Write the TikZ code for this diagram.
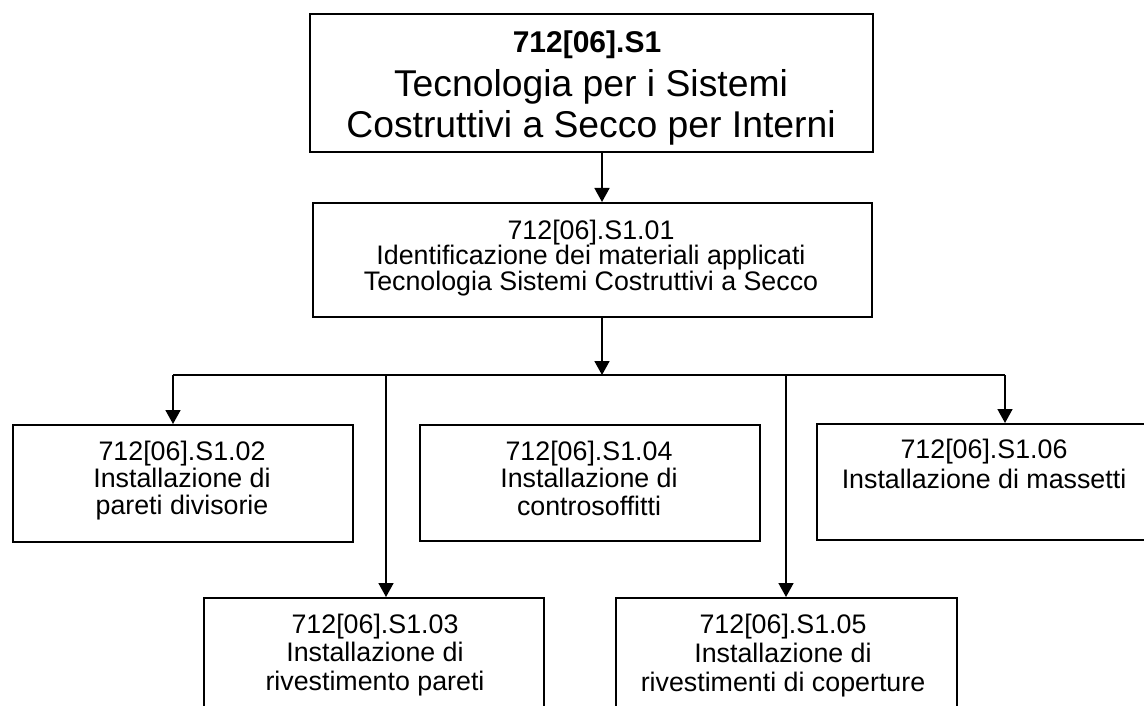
\documentclass[tikz,border=0pt]{standalone}
\usepackage{fontspec}
\setmainfont{Liberation Sans}
\usetikzlibrary{arrows.meta}
\lineskiplimit=-60pt
\begin{document}
\begin{tikzpicture}[x=1pt,y=-1pt,
  box/.style={draw=black,line width=1.7pt,rectangle,inner sep=0pt,anchor=north west},
  conn/.style={draw=black,line width=1.7pt},
  arr/.style={conn,-{Triangle[width=15pt,length=14pt]}},
  bigtxt/.style={anchor=base,align=center,inner sep=0pt,font=\fontsize{37.3}{41}\selectfont},
  boldtxt/.style={anchor=base,align=center,inner sep=0pt,font=\fontsize{30}{33}\selectfont\bfseries},
  smalltxt/.style={anchor=base,align=center,inner sep=0pt,font=\fontsize{26.8}{27}\selectfont}]
\useasboundingbox (0,0) rectangle (1144,706);
\clip (0,0) rectangle (1144,706);
% boxes
\node[box,minimum width=563pt,minimum height=138pt] (top) at (309,13) {};
\node[box,minimum width=559pt,minimum height=114pt] (b01) at (312,202) {};
\node[box,minimum width=340pt,minimum height=117pt] (b02) at (12,424) {};
\node[box,minimum width=340pt,minimum height=116pt] (b04) at (419,424) {};
\node[box,minimum width=340pt,minimum height=116pt] (b06) at (816,423) {};
\node[box,minimum width=340pt,minimum height=140pt] (b03) at (203,597) {};
\node[box,minimum width=341pt,minimum height=140pt] (b05) at (615,597) {};
% texts (anchor base = baseline of the last line)
\node[boldtxt] (t0a) at (587,53) {712[06].S1};
\node[bigtxt] (t0b) at (591,138) {Tecnologia per i Sistemi\\Costruttivi a Secco per Interni};
\node[smalltxt,font=\fontsize{26.8}{25.5}\selectfont] (t01) at (591,290) {712[06].S1.01\\Identificazione dei materiali applicati\\Tecnologia Sistemi Costruttivi a Secco};
\node[smalltxt] (t02) at (182,514) {712[06].S1.02\\Installazione di\\pareti divisorie};
\node[smalltxt,font=\fontsize{26.8}{27.5}\selectfont] (t04) at (589,515) {712[06].S1.04\\Installazione di\\controsoffitti};
\node[smalltxt,font=\fontsize{26.8}{30}\selectfont] (t06) at (984,488) {712[06].S1.06\\Installazione di massetti};
\node[smalltxt,font=\fontsize{26.8}{28.5}\selectfont] (t03) at (375,690) {712[06].S1.03\\Installazione di\\rivestimento pareti};
\node[smalltxt,font=\fontsize{26.8}{29}\selectfont] (t05) at (783,691) {712[06].S1.05\\Installazione di\\rivestimenti di coperture};
% connector coordinates
\coordinate (ax) at (602,375);
\coordinate (c02) at (173,375);
\coordinate (c03) at (386,375);
\coordinate (c05) at (786,375);
\coordinate (c06) at (1005,375);
% connectors
\draw[arr] (top.south -| ax) -- (b01.north -| ax);
\draw[arr] (b01.south -| ax) -- (ax);
\draw[conn] (c02) -- (c06);
\draw[arr] (c02) -- (b02.north -| c02);
\draw[arr] (c03) -- (b03.north -| c03);
\draw[arr] (c05) -- (b05.north -| c05);
\draw[arr] (c06) -- (b06.north -| c06);
\end{tikzpicture}
\end{document}
